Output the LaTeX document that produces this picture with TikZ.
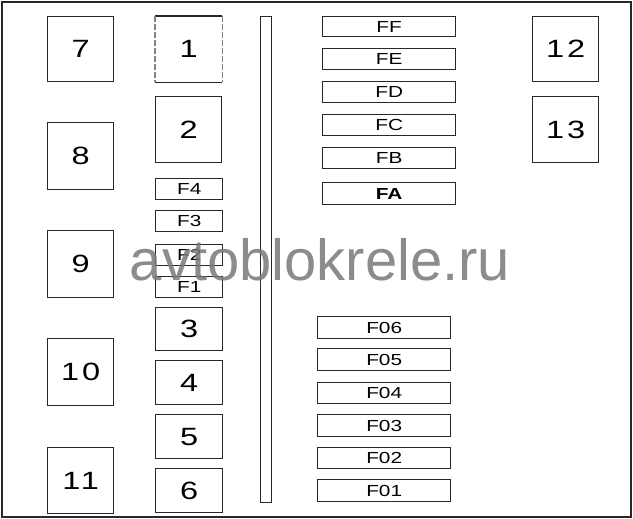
\documentclass[tikz,border=0pt]{standalone}
\usepackage{fontspec}
\setmainfont{Liberation Sans}
\newfontfamily\widefont[FakeStretch=1.3]{Liberation Sans}
\newfontfamily\widenum[FakeStretch=1.3,LetterSpace=12]{Liberation Sans}
\definecolor{ln}{RGB}{40,40,40}
\definecolor{wm}{RGB}{120,120,120}
\begin{document}
\begin{tikzpicture}[x=1pt,y=-1pt,
  relay/.style={draw=ln, line width=1.4pt, anchor=north west, inner sep=0pt,
    minimum width=66pt, minimum height=65pt, font=\widenum\fontsize{25}{25}\selectfont},
  fuse/.style={draw=ln, line width=1.4pt, anchor=north west, inner sep=0pt,
    minimum height=21pt, font=\widefont\fontsize{16}{16}\selectfont},
  sfuse/.style={fuse, minimum width=67pt},
  wfuse/.style={fuse, minimum width=133pt},
  small/.style={relay, minimum width=67pt}]
\useasboundingbox (0,0) rectangle (633,519);
\fill[white] (0,0) rectangle (633,519);
\draw[ln, line width=2pt] (2,2) rectangle (631,517);
% left column relays
\node[relay] (r7) at (47,16) {7};
\node[relay, minimum height=67pt] (r8) at (47,122) {8};
\node[relay, minimum height=67pt] (r9) at (47,230) {9};
\node[relay, minimum height=67pt] (r10) at (47,338) {10};
\node[relay, minimum height=66pt] (r11) at (47,447) {11};
% middle column
\node[relay, draw=none] (r1) at (155,16) {1};
\draw[ln, line width=1.4pt] (r1.north west) -- (r1.north east);
\draw[ln, line width=1.4pt] (r1.south west) -- (r1.south east);
\draw[gray, line width=1.4pt, dash pattern=on 6pt off 2pt] (r1.north west) -- (r1.south west);
\draw[gray, line width=1.4pt, dash pattern=on 6pt off 2pt] (r1.north east) -- (r1.south east);
\node[relay, minimum height=66pt] (r2) at (155,96) {2};
\node[sfuse] (f4) at (155,178) {F4};
\node[sfuse] (f3) at (155,210) {F3};
\node[sfuse] (f2) at (155,244) {F2};
\node[sfuse] (f1) at (155,276) {F1};
\node[small, minimum height=43pt] (r3) at (155,307) {3};
\node[small, minimum height=44pt] (r4) at (155,360) {4};
\node[small, minimum height=44pt] (r5) at (155,414) {5};
\node[small, minimum height=44pt] (r6) at (155,468) {6};
% vertical bar
\node[draw=ln, line width=1.4pt, anchor=north west, inner sep=0pt,
  minimum width=11pt, minimum height=486pt] (bar) at (260,16) {};
% right fuse column
\node[wfuse, minimum height=20pt] (ff) at (322,16) {FF};
\node[wfuse] (fe) at (322,48) {FE};
\node[wfuse] (fd) at (322,81) {FD};
\node[wfuse] (fc) at (322,114) {FC};
\node[wfuse] (fb) at (322,147) {FB};
\node[wfuse, minimum height=22pt, font=\widefont\fontsize{16}{16}\selectfont\bfseries] (fa) at (322,182) {FA};
\node[wfuse, minimum height=22pt] (f06) at (317,316) {F06};
\node[wfuse, minimum height=22pt] (f05) at (317,348) {F05};
\node[wfuse] (f04) at (317,382) {F04};
\node[wfuse, minimum height=22pt] (f03) at (317,414) {F03};
\node[wfuse] (f02) at (317,447) {F02};
\node[wfuse, minimum height=22pt] (f01) at (317,479) {F01};
% right relays
\node[relay] (r12) at (532,16) {12};
\node[relay, minimum height=66pt] (r13) at (532,96) {13};
% watermark
\node[text=wm, opacity=0.85, anchor=base, inner sep=0pt,
  font=\fontsize{58}{58}\selectfont] (wmk) at (320,280) {avtoblokrele.ru};
\end{tikzpicture}
\end{document}
